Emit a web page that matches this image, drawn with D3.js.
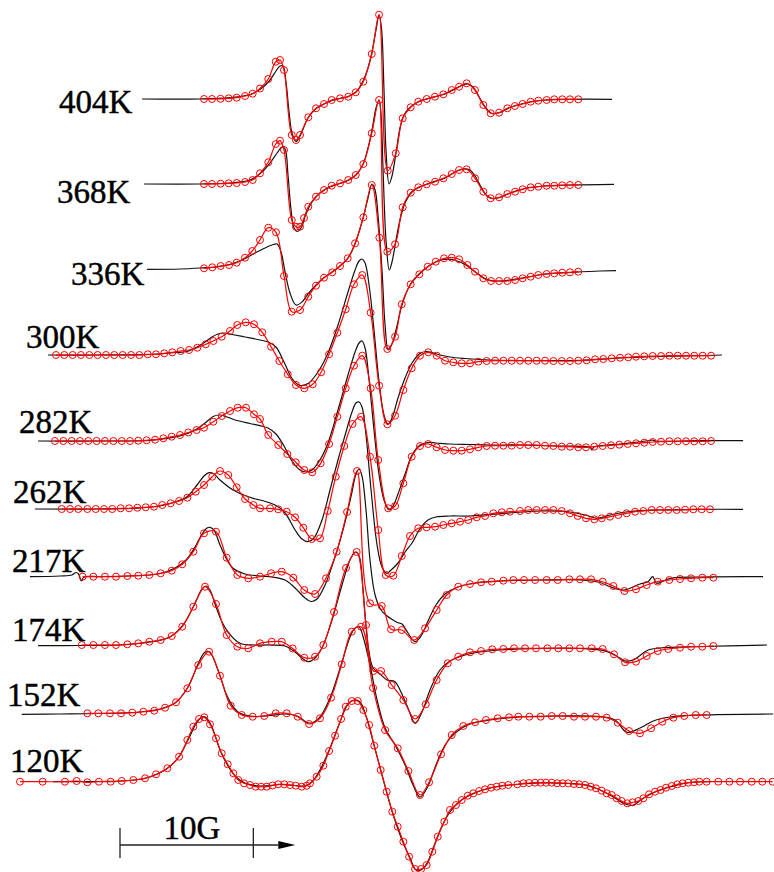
<!DOCTYPE html>
<html>
<head>
<meta charset="utf-8">
<script src="https://cdn.jsdelivr.net/npm/d3@7"></script>
<style>
  html, body { margin: 0; padding: 0; background: #fff; }
  svg { display: block; }
</style>
</head>
<body>
<svg id="chart" width="774" height="872"></svg>
<script>
// EPR spectra vs temperature: experimental (black) and simulated (red, circles).
// Field in gauss (relative), signal in arbitrary derivative units.

const temperatures = ["404K", "368K", "336K", "300K", "282K", "262K", "217K", "174K", "152K", "120K"];

const exp404 = [[1.65,0],[6,0],[8.25,1.3],[9.75,4.5],[10.65,11],[11.25,19],[11.7,28],[12,33],[12.23,33],[12.45,17],[12.68,-13],[12.9,-34],[13.2,-42.5],[13.5,-37],[14.1,-19],[14.7,-9.5],[15.3,-5],[15.9,-1.5],[16.5,0.5],[17.1,2.5],[17.7,7],[18.23,18],[18.6,31],[18.9,47],[19.2,69],[19.43,84],[19.61,71],[19.8,9],[19.95,-51],[20.18,-85],[20.4,-77],[20.7,-54],[21,-29],[21.3,-16],[21.75,-8.5],[22.35,-3],[23.25,1],[24.38,5],[25.13,10],[25.65,13.5],[26.1,15],[26.48,12],[26.93,2],[27.45,-9],[27.9,-14.5],[28.5,-13.5],[29.25,-8.5],[30.38,-4],[31.88,-1],[33.75,-0.3],[36.9,-0.3]];
const sim404 = [[6.3,0],[6.9,0],[7.54,0.2],[8.15,0.7],[8.75,1.3],[9.38,3],[9.95,5.3],[10.5,10.5],[11.12,20],[11.68,37.3],[12,39],[12.3,29],[12.88,-36],[13.2,-41],[13.5,-36],[14.12,-18.3],[14.7,-9.3],[15.3,-5],[15.88,-1],[16.5,0.7],[17.12,2.3],[17.68,6.7],[18.25,17.3],[18.88,45],[19.43,84.3],[20.08,-71.7],[20.68,-54.3],[21.2,-19.3],[21.8,-8.3],[22.37,-2.7],[23,0],[23.62,2.3],[24.25,4.7],[24.88,9],[25.43,12.3],[26,15.7],[26.62,9],[27.25,-6],[27.8,-14.3],[28.43,-13.7],[29.05,-9.3],[29.62,-7],[30.2,-5],[30.8,-2.7],[31.37,-1.7],[32,-1],[32.57,-0.3],[33.17,-0.3],[33.75,-0.3],[34.37,-0.3]];

const exp368 = [[1.8,0],[6,0],[8.25,1],[9.75,4],[10.65,12],[11.25,21],[11.78,31],[12.15,37],[12.38,35],[12.6,9],[12.83,-26],[13.05,-44],[13.28,-47.5],[13.58,-44],[13.95,-30],[14.4,-18],[15,-9],[15.75,-3],[16.5,0.5],[17.1,3.5],[17.7,9],[18.23,20],[18.6,36],[18.9,54],[19.2,76],[19.43,84],[19.58,69],[19.73,14],[19.95,-56],[20.2,-86],[20.4,-78],[20.7,-56],[21,-36],[21.38,-19],[21.9,-8],[22.5,-3],[23.25,1],[24.38,6],[25.13,12],[25.73,15],[26.18,14.5],[26.63,8],[27.08,-3],[27.53,-12],[27.98,-14.5],[28.5,-13.5],[29.25,-9],[30.38,-4.5],[31.88,-2],[33.75,-1],[37.05,-0.3]];
const sim368 = [[6.3,0],[6.9,0],[7.55,0.3],[8.15,0.7],[8.75,1],[9.38,2],[9.95,4],[10.5,10.7],[11.12,21.7],[11.68,40],[12,43.3],[12.3,34],[12.88,-36],[13.2,-42.7],[13.5,-42.7],[13.8,-34],[14.12,-22.7],[14.7,-12.7],[15.3,-6],[15.88,-1.7],[16.5,0.7],[17.12,4],[17.68,9],[18.25,20],[18.88,50.7],[19.43,84],[20.05,-67.7],[20.63,-60.3],[21.2,-23.3],[21.8,-8.7],[22.37,-3.3],[23,-0.3],[23.63,2.3],[24.25,5.7],[24.88,10],[25.43,14],[26,14.7],[26.63,5.7],[27.25,-7.7],[27.8,-14.3],[28.43,-13.3],[29.05,-10],[29.63,-7.7],[30.2,-5.3],[30.8,-3.3],[31.37,-2.7],[32,-1.7],[32.57,-1.7],[33.17,-1.3],[33.75,-1],[34.37,-1]];

const exp336 = [[2.03,-0.3],[4.5,0],[6,1],[7.5,2.5],[9,8],[10.13,16],[10.88,21],[11.4,24],[11.78,25],[12.08,17],[12.38,-3],[12.75,-24],[13.2,-36],[13.65,-33],[14.1,-25],[14.7,-16],[15.3,-8.5],[15.9,-3],[16.5,3],[17.1,11],[17.63,25],[18.23,51],[18.6,71],[18.9,85],[19.13,79],[19.35,54],[19.65,-1],[19.88,-56],[20.12,-81],[20.4,-75],[20.7,-61],[21.15,-36],[21.75,-16],[22.43,-5],[23.1,2.5],[23.7,7],[24.3,9.5],[24.9,9.5],[25.5,7],[26.1,2.5],[26.7,-3.5],[27.3,-9],[27.83,-11.5],[28.5,-12],[29.25,-11],[30.38,-8.5],[31.88,-5],[33.75,-3.5],[36,-2],[37.2,-1.7]];
const sim336 = [[6.3,0.7],[6.92,1.7],[7.55,3],[8.18,4],[8.75,6.3],[9.38,11.3],[9.92,18],[10.5,29],[11.12,41.3],[11.7,36.7],[12.3,-7],[12.88,-42.7],[13.5,-41],[14.12,-27.7],[14.7,-16.7],[15.3,-8.7],[15.92,-3.3],[16.5,3],[17.08,10.7],[17.63,25.7],[18.25,51.7],[18.88,84],[19.45,31.3],[20.05,-80],[20.63,-67.7],[21.13,-35.3],[21.8,-15.3],[22.45,-5.3],[23.08,2.3],[23.68,7.3],[24.3,10.7],[24.88,11.3],[25.43,9.7],[26.05,4],[26.63,-2.7],[27.25,-9.3],[27.83,-12],[28.43,-12],[29.05,-12],[29.63,-11],[30.2,-9.3],[30.8,-7.7],[31.37,-6],[32,-5],[32.57,-4.3],[33.17,-3.7],[33.75,-3.3],[34.37,-2.7]];

const exp300 = [[-5.4,0],[-1.5,0],[2.25,0.5],[4.13,2.5],[5.03,3.5],[5.78,8],[6.38,13],[6.9,18],[7.35,21],[7.8,22],[8.4,20.5],[9.38,18],[10.5,15],[11.1,13],[11.7,8],[12.3,-7],[12.9,-23.5],[13.5,-30.5],[14.1,-28.5],[14.85,-17],[15.6,2],[16.35,30],[17.1,63],[17.63,85],[17.93,94],[18.15,96],[18.38,92],[18.68,70],[19.05,25],[19.43,-27],[19.8,-60],[20.1,-69],[20.4,-63],[20.85,-43],[21.38,-23],[21.9,-8],[22.5,1.5],[22.95,3.5],[23.4,2.5],[24,0],[24.75,-2],[25.88,-3.5],[27,-4.5],[28.5,-5.3],[31.5,-5.7],[34.5,-5.3],[37.5,-3],[40.5,-1.5],[43.5,-0.7],[45.15,0]];
const sim300 = [[-4.8,0],[-4.18,0],[-3.55,0],[-2.93,0],[-2.3,0],[-1.68,0],[-1.05,0],[-0.43,0],[0.2,0],[0.83,0],[1.45,0],[2.08,0.7],[2.7,0.7],[3.32,1.7],[3.92,2.7],[4.55,4],[5.18,5],[5.8,7.3],[6.43,10.7],[7,14],[7.63,18.3],[8.25,24],[8.8,30],[9.43,32.7],[10.05,30.7],[10.67,22.7],[11.33,8.3],[11.95,-6],[12.58,-19.3],[13.2,-30],[13.82,-33.3],[14.45,-29.3],[15.08,-17.3],[15.68,0.7],[16.3,22.3],[16.93,45.7],[17.55,70.7],[18.17,80],[18.8,42.3],[19.43,-30.7],[20.05,-69.3],[20.63,-60.7],[21.25,-35],[21.88,-13.3],[22.5,-0.7],[23.12,2.7],[23.75,-0.7],[24.38,-5.7],[25,-7.3],[25.63,-8.3],[26.25,-8.3],[26.87,-6.7],[27.5,-6],[28.13,-5.7],[28.75,-5.7],[29.38,-5.7],[30,-5.7],[30.62,-5.7],[31.25,-5.7],[31.88,-5.7],[32.5,-6],[33.13,-6],[33.75,-6],[34.37,-5.7],[35,-5.3],[35.63,-4.3],[36.25,-4],[36.88,-3.3],[37.5,-2.7],[38.12,-2.3],[38.7,-1.7],[39.32,-1.3],[39.95,-1],[40.58,-1],[41.2,-0.7],[41.83,-0.7],[42.45,-0.7],[43.07,-0.7],[43.7,-0.7],[44.33,-0.7]];

const exp282 = [[-6.15,0],[-1.5,0],[2.25,0.7],[4.5,5],[5.63,11],[6.38,18],[6.98,24.5],[7.5,26],[8.03,24],[8.63,21],[9.75,17.5],[10.5,15.3],[11.1,13],[11.7,7],[12.3,-5],[12.9,-20],[13.5,-29],[13.95,-31],[14.4,-29],[15,-19],[15.6,-2],[16.35,31],[17.1,66],[17.63,89],[17.93,98],[18.15,100],[18.38,93],[18.68,61],[19.05,11],[19.43,-34],[19.8,-59],[20.18,-69],[20.48,-65],[20.85,-53],[21.38,-33],[21.9,-14],[22.5,-4],[23.1,-1.5],[23.7,-2],[24.75,-3],[26.25,-3.5],[27.75,-4],[30,-4],[33,-5],[35.25,-6.5],[35.4,-9],[35.55,-6],[37.5,-3],[39.75,0.5],[39.9,1],[40.2,0],[43.5,0.3],[46.73,0.3]];
const sim282 = [[-4.88,0],[-4.25,0],[-3.63,0],[-3,0],[-2.38,0],[-1.75,0],[-1.13,0],[-0.5,0],[0.13,0],[0.75,0],[1.37,0.3],[2,0.7],[2.63,1.3],[3.25,2.7],[3.88,4.3],[4.5,6],[5.12,8.5],[5.75,11],[6.3,13.3],[7,19.3],[7.63,25],[8.25,30],[8.83,33.3],[9.45,33.3],[10.05,26.7],[10.5,22],[11.12,6],[11.87,-4],[12.55,-13],[13.18,-21.3],[13.82,-29],[14.42,-31.3],[15.05,-22.3],[15.68,-3],[16.3,24.3],[16.93,52.7],[17.55,75.3],[18.17,85.3],[18.8,52.7],[19.37,-19],[20.12,-67.3],[20.63,-65],[21.25,-42.3],[21.88,-15.7],[22.5,-5],[23.12,-3],[23.75,-6.3],[24.38,-9],[25,-9.7],[25.63,-9.7],[26.25,-8.3],[26.87,-6.3],[27.5,-5],[28.13,-4.7],[28.75,-4.7],[29.38,-4.7],[30,-4],[30.62,-4],[31.25,-4],[31.88,-4.7],[32.5,-5],[33.13,-5.7],[33.75,-5.7],[34.37,-6.3],[34.95,-6.3],[35.57,-5.7],[36.2,-5],[36.83,-4.3],[37.45,-3.7],[38.08,-3],[38.7,-2.3],[39.32,-1.7],[39.95,-1],[40.58,-0.7],[41.2,-0.3],[41.83,-0.3],[42.45,-0.3],[43.07,-0.3],[43.7,-0.3],[44.33,0]];

const exp262 = [[-6.38,0],[-1.5,0],[1.5,1],[3,3],[4.13,7],[5.03,12.3],[5.78,24],[6.3,33],[6.68,36.3],[7.05,35],[7.5,29],[8.48,19],[9.38,13.5],[9.98,10.7],[10.65,8.5],[11.63,4],[12.38,-4],[13.13,-21],[13.65,-30],[14.1,-32.7],[14.55,-29],[15.15,-11],[15.75,19],[16.35,49],[16.95,77],[17.4,97],[17.7,106],[17.93,107],[18.15,102],[18.45,74],[18.83,19],[19.28,-36],[19.65,-58],[20,-64.3],[20.33,-61],[20.85,-54],[21.38,-43],[21.9,-34],[22.35,-23],[22.65,-17],[23.1,-11],[23.7,-8],[24.75,-7],[26.25,-7],[28.88,-4.3],[31.5,-2],[33.75,-3],[34.88,-6],[35.78,-9.3],[36.75,-6],[38.25,-2.5],[40.5,-1],[43.5,-0.3],[46.73,-0.3]];
const sim262 = [[-4.37,0],[-3.75,0],[-3.13,0],[-2.45,0],[-1.82,0],[-1.2,0],[-0.58,0],[0.05,0.7],[0.68,0.7],[1.3,1.3],[1.93,1.7],[2.55,2.3],[3.17,4],[3.8,5.7],[4.43,8],[5.05,11.3],[5.68,17.3],[6.3,24],[6.92,32.3],[7.5,38],[8.12,34],[8.75,21.7],[9.38,10],[10,4],[10.5,0.7],[11.25,0.7],[11.87,-0.3],[12.5,-2.7],[13.13,-8.3],[13.75,-18.7],[14.38,-30],[15,-29.3],[15.58,-2],[16.18,32.3],[16.82,63],[17.44,85],[18.08,92.3],[18.75,52.3],[19.37,-21],[19.93,-66],[20.5,-66.7],[21.13,-47],[21.75,-27],[22.37,-19.3],[23,-18.3],[23.63,-17.7],[24.25,-16],[24.88,-14.3],[25.5,-12.7],[26.12,-11],[26.75,-8.3],[27.38,-7],[28,-4.3],[28.63,-3.3],[29.25,-2.7],[30,-2],[30.62,-1],[31.25,-1],[31.88,-1],[32.5,-1],[33.13,-2],[33.75,-4.3],[34.33,-7],[34.95,-9.3],[35.57,-10.3],[36.13,-9.3],[36.75,-7.7],[37.37,-6],[38,-4.3],[38.63,-2.7],[39.25,-2],[39.88,-1],[40.5,-1],[41.12,-1],[41.75,-1],[42.38,-0.7],[43,-0.3],[43.63,-0.3],[44.25,-0.3]];

const exp217 = [[-6.75,0.3],[-4.5,1],[-3.6,2],[-3.3,4.5],[-3.11,3],[-2.89,-4],[-2.7,0],[-1.5,0.3],[1.5,1.5],[3,3.5],[4.13,9],[4.95,17],[5.63,30],[6.15,43],[6.53,49],[6.75,49.7],[7.05,47],[7.5,32],[7.95,19],[8.48,8.7],[9.38,3],[10.5,1],[11.4,0],[12.38,-3],[13.13,-11],[13.88,-21],[14.33,-24.5],[14.78,-22],[15.38,-8],[16.13,20],[16.88,55],[17.4,85],[17.7,103],[17.93,108],[18.15,101],[18.45,67],[18.75,17],[19.13,-18],[19.58,-33],[20.03,-39],[20.48,-43],[20.85,-45.7],[21.15,-47],[21.6,-56],[22.13,-64.7],[22.58,-59],[23.1,-44],[23.7,-28],[24.38,-17],[25.35,-10],[26.63,-6],[28.5,-4],[31.5,-3],[34.5,-3],[36,-5.5],[36.75,-9.7],[37.8,-13],[39,-7],[39.6,-4.7],[39.95,0.3],[40.25,-6.3],[41.25,-1.3],[43.5,0],[48.23,0.3]];
const sim217 = [[-2.8,0.3],[-2,0.3],[-1.13,0.3],[-0.3,0.3],[0.55,1],[1.37,1.3],[2.2,2],[3.05,3.7],[3.88,6.3],[4.67,12.7],[5.5,25.3],[6.3,43.7],[7.2,45.3],[8,19.3],[8.8,2],[9.62,-1.3],[10.5,0.3],[11.33,3.7],[12.13,5.3],[13,-0.7],[13.82,-13],[14.63,-17],[15.45,-1.3],[16.25,25.3],[17.03,65],[17.78,106],[18.75,-26.3],[19.63,-29],[20.33,-52.3],[21.13,-53],[22.07,-63],[22.88,-51.3],[23.75,-33],[24.5,-18],[25.37,-9.7],[26.25,-7],[27.08,-5.3],[27.88,-4.7],[28.75,-3.7],[29.5,-3],[30.3,-3],[31.13,-3],[32,-3],[32.83,-3],[33.7,-2.3],[34.5,-2.3],[35.33,-2.3],[36.2,-4.7],[37,-9],[37.83,-14],[38.7,-12.3],[39.5,-8],[40.33,-4.7],[41.2,-3],[42,-2],[42.83,-1.3],[43.67,-0.7],[44.5,-0.7]];

const exp174 = [[-6.15,0.3],[-3,0.5],[0,1],[2.25,4],[3.75,9],[4.88,24],[5.63,43],[6.15,57],[6.45,60],[6.75,56],[7.2,39],[7.65,24],[8.1,14],[9,2.7],[10.13,1],[11.25,1],[12.38,0],[13.13,-6],[13.73,-13],[14.1,-15.7],[14.55,-13],[15.15,-2],[15.9,26],[16.65,61],[17.25,86],[17.63,94],[17.93,90],[18.23,56],[18.6,1],[18.98,-22],[19.5,-28],[20.03,-34],[20.63,-35.7],[21,-44],[21.6,-62],[22.13,-77.3],[22.65,-66],[23.25,-44],[24,-24],[24.75,-15],[25.88,-9],[27,-6],[28.5,-4],[31.5,-2.5],[34.5,-2.5],[36.38,-5],[37.35,-11],[37.88,-15],[38.48,-14],[39.62,-4],[40.5,-2],[43.5,-0.5],[48.53,1]];
const sim174 = [[-2.87,1],[-2,1],[-1.13,1],[-0.3,1],[0.55,1.7],[1.37,2.7],[2.2,4.3],[3.05,6],[3.88,10],[4.67,19.3],[5.5,39.3],[6.38,59.3],[7.2,42],[8,11],[8.8,-0.7],[9.62,-2.3],[10.5,2.7],[11.38,4.3],[12.13,4.3],[12.95,-2.5],[13.82,-11.7],[14.63,-10.7],[15.25,1],[16.05,34],[16.95,78],[17.75,94],[18.45,21],[19,-25],[19.58,-25],[20.38,-39],[21.25,-54],[22.13,-73],[22.93,-58.3],[23.75,-34],[24.58,-17.3],[25.37,-10.7],[26.25,-6.3],[27.08,-5],[27.92,-3.3],[28.75,-3],[29.55,-2.3],[30.38,-2.3],[31.2,-2.3],[32.05,-2.3],[32.87,-2.3],[33.7,-2.3],[34.5,-2.3],[35.38,-2.3],[36.2,-3],[37.05,-8.3],[37.88,-16.3],[38.7,-15.7],[39.5,-10],[40.33,-5],[41.12,-3],[42,-1.7],[42.83,-0.7],[43.67,-0.7],[44.5,0]];

const exp152 = [[-7.37,-0.3],[-4.5,0],[-1.5,0.5],[1.5,2],[3,5],[4.13,11],[5.1,27],[5.85,50],[6.3,61],[6.55,63],[6.83,60],[7.35,44],[8,19],[8.55,6],[9,0.7],[10.13,-2.5],[11.25,-1.5],[12.38,0],[13.28,-2],[14.03,-8.5],[14.4,-9],[15,-3],[15.75,16],[16.58,49],[17.25,77],[17.63,86],[17.93,87],[18.3,74],[18.75,49],[19.28,14],[19.88,-14],[20.63,-31],[21.38,-51],[21.98,-71],[22.5,-83],[23.03,-74],[23.7,-51],[24.38,-31],[25.13,-19],[26.25,-10],[27.75,-6],[30,-3],[33,-2],[36,-2.5],[37.13,-6],[38,-18.3],[39,-14],[40,-7],[41.25,-3],[43.5,-1],[48.98,0]];
const sim152 = [[-2.45,0.7],[-1.63,0.7],[-0.75,0.7],[0.08,0.7],[0.92,1.3],[1.75,2.3],[2.57,3.3],[3.38,6.3],[4.2,11.7],[5.05,25.7],[5.87,49],[6.68,62.3],[7.5,38.3],[8.3,8.3],[9.13,-1],[9.95,-2.7],[10.82,-2],[11.68,0.7],[12.5,0.7],[13.33,-2.7],[14.18,-10],[15,-4.3],[15.83,16.3],[16.63,49.7],[17.38,82.3],[18.08,87.3],[18.98,26],[19.88,-16],[20.83,-34.3],[21.63,-57],[22.5,-81],[23.18,-68.3],[24.08,-40.3],[24.88,-21],[25.75,-12],[26.63,-8.3],[27.45,-6],[28.33,-4.3],[29.18,-3.3],[29.87,-2.7],[30.7,-2.7],[31.55,-2.7],[32.38,-2],[33.2,-2],[34.05,-2.7],[34.88,-2.7],[35.7,-2.7],[36.5,-3.7],[37.33,-8.7],[38.18,-17],[39,-19.3],[39.83,-14.3],[40.67,-7.7],[41.5,-3.7],[42.32,-2],[43.18,-1],[44,-1]];

const exp120 = [[-5.03,0.3],[-1.5,0.5],[0.75,1.5],[2.25,5],[3.38,12],[4.35,24],[5.1,42],[5.7,58],[6.15,65],[6.45,64.5],[6.9,55],[7.5,32],[8.1,16],[8.7,5],[9.38,-1],[10.5,-4],[12,-2.5],[13.13,-3.5],[13.88,-4],[14.4,0],[15,12],[15.75,34],[16.5,60],[17.1,78],[17.55,82],[18,80],[18.45,66],[19.05,37],[19.65,7],[20.4,-29],[21.15,-58],[21.75,-76],[22.2,-88],[22.58,-88],[23.03,-81],[23.55,-64],[24.15,-44],[24.75,-30],[25.5,-19],[26.63,-11],[27.75,-6],[29.25,-3],[31.5,-1],[33.75,-1.5],[35.25,-4],[36.75,-13],[37.88,-22],[38.5,-23],[39.15,-17],[40.13,-10],[41.25,-5],[42.75,-0.5],[44.25,0.3]];
const sim120 = [[-7.5,0.3],[-5.8,0.3],[-4.13,0.3],[-3.25,1],[-2.45,-0.3],[-1.58,0.3],[-0.7,0.3],[0.13,1],[1,2],[1.88,3.7],[2.7,7.7],[3.55,13.7],[4.43,25.3],[5.05,42],[5.5,55.3],[5.93,63],[6.32,64.7],[6.75,57.7],[7.2,43.7],[7.63,28.7],[8.08,17.7],[8.5,8.7],[8.87,2],[9.3,-1.3],[9.75,-3],[10.18,-4.7],[10.58,-4.7],[11,-4.7],[11.44,-3.5],[11.87,-2.3],[12.32,-2.3],[12.75,-3],[13.18,-3.7],[13.63,-4.7],[14,-3.7],[14.25,-1.3],[14.75,5.3],[15.25,16.3],[15.68,31],[16.13,46.3],[16.58,63],[16.93,75.3],[17.38,81],[17.83,81],[18.25,72],[18.68,57],[19.07,36.3],[19.55,12],[20,-9.7],[20.42,-29.7],[20.83,-44.7],[21.25,-59.7],[21.68,-74.7],[22.13,-87],[22.58,-87],[23,-83],[23.42,-69.7],[23.83,-54.7],[24.32,-39.7],[24.75,-28],[25.2,-23],[25.63,-18],[26.08,-13.7],[26.5,-11.3],[26.93,-9],[27.38,-7.3],[27.83,-5.7],[28.25,-4.7],[28.67,-3.7],[29.12,-3],[29.8,-2.3],[30.25,-1.3],[30.68,-1],[31.13,-0.7],[31.55,-0.7],[31.95,-0.7],[32.38,-0.7],[32.78,-1.3],[33.2,-1.3],[33.62,-1.3],[34.05,-2],[34.45,-2.3],[34.88,-3],[35.3,-4.7],[35.7,-6.3],[36.13,-8.7],[36.5,-11.3],[36.88,-13],[37.25,-16.3],[37.63,-19],[38.05,-21.3],[38.45,-20.3],[38.87,-19],[39.25,-16.3],[39.68,-12.3],[40.13,-9.7],[40.55,-8],[40.95,-5.7],[41.38,-4],[41.8,-2.3],[42.2,-1.3],[42.62,-0.7],[43.05,-0.3],[43.45,0.3],[44,0.3],[44.87,0.3],[45.7,0.3],[46.5,0.3],[47.38,0.3],[48.17,0.3],[48.95,0.3]];

const experimental = [exp404, exp368, exp336, exp300, exp282, exp262, exp217, exp174, exp152, exp120];
const simulated = [sim404, sim368, sim336, sim300, sim282, sim262, sim217, sim174, sim152, sim120];

const scaleBarField = [0, 10];
const scaleBarLabel = "10G";

// ---- layout ----
const W = 774, H = 872;
const rowBaseline = [99, 184, 269, 355, 441, 509, 577, 646, 714, 782];
const labelAnchor = [[59, 113], [57, 203], [71, 285], [26, 347.5], [19, 433], [13, 503], [12, 571.5], [12, 640.5], [7, 705.5], [10, 771.5]];
const labelFont = "'Liberation Serif', 'Times New Roman', serif";

const x = d3.scaleLinear().domain([-9, 49.05]).range([0, W]);
const y = d3.scaleLinear().domain([-100, 100]).range([100, -100]);

const line = d3.line()
  .x(d => x(d[0]))
  .y(d => y(d[1]))
  .curve(d3.curveCatmullRom.alpha(0.5));

const svg = d3.select("#chart");
svg.append("rect").attr("width", W).attr("height", H).attr("fill", "#fff");

const rows = svg.selectAll("g.row")
  .data(temperatures)
  .join("g")
  .attr("class", "row")
  .attr("transform", (d, i) => `translate(0,${rowBaseline[i]})`);

// experimental traces
rows.append("path")
  .attr("class", "exp")
  .attr("d", (d, i) => line(experimental[i]))
  .attr("fill", "none")
  .attr("stroke", "#111")
  .attr("stroke-width", 1.2);

// simulated traces with open circle markers
rows.append("path")
  .attr("class", "sim")
  .attr("d", (d, i) => line(simulated[i]))
  .attr("fill", "none")
  .attr("stroke", "#ff0000")
  .attr("stroke-width", 1.2);

rows.each(function(d, i) {
  d3.select(this).selectAll("circle")
    .data(simulated[i])
    .join("circle")
    .attr("cx", p => x(p[0]))
    .attr("cy", p => y(p[1]))
    .attr("r", 3.5)
    .attr("fill", "none")
    .attr("stroke", "#ff0000")
    .attr("stroke-width", 1);
});

// temperature labels
svg.selectAll("text.temp")
  .data(temperatures)
  .join("text")
  .attr("class", "temp")
  .attr("x", (d, i) => labelAnchor[i][0])
  .attr("y", (d, i) => labelAnchor[i][1])
  .attr("font-family", labelFont)
  .attr("font-size", 33)
  .attr("fill", "#000")
  .attr("stroke", "#000")
  .attr("stroke-width", 0.45)
  .text(d => d);

// field scale bar with arrow
const barY = 845;
const bar = svg.append("g").attr("class", "scale-bar");
bar.append("line")
  .attr("x1", x(scaleBarField[0])).attr("x2", x(scaleBarField[1]) + 25)
  .attr("y1", barY).attr("y2", barY)
  .attr("stroke", "#222").attr("stroke-width", 1.3);
scaleBarField.forEach(f => {
  bar.append("line")
    .attr("x1", x(f)).attr("x2", x(f))
    .attr("y1", barY - 17).attr("y2", barY + 13)
    .attr("stroke", "#222").attr("stroke-width", 1.3);
});
const tipX = x(scaleBarField[1]) + 42;
bar.append("path")
  .attr("d", `M${tipX - 17},${barY - 4} L${tipX},${barY} L${tipX - 17},${barY + 4} Z`)
  .attr("fill", "#000");
bar.append("text")
  .attr("x", x(5.4))
  .attr("y", 839)
  .attr("text-anchor", "middle")
  .attr("font-family", labelFont)
  .attr("font-size", 33)
  .attr("fill", "#000")
  .attr("stroke", "#000")
  .attr("stroke-width", 0.45)
  .text(scaleBarLabel);
</script>
</body>
</html>
